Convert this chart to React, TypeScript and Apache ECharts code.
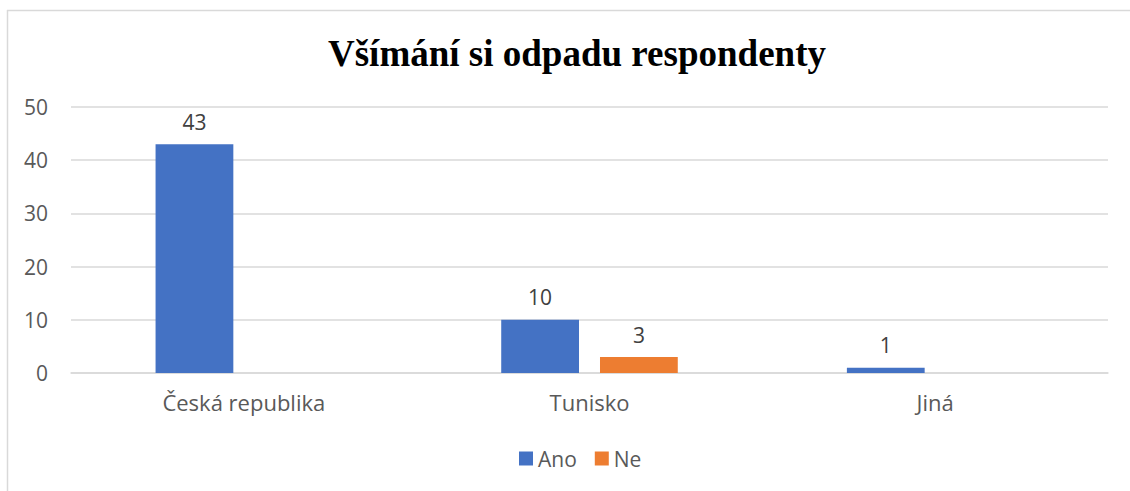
import React, { useEffect, useRef } from "react";
import * as echarts from "echarts";

const categories = ["Česká republika", "Tunisko", "Jiná"];
const anoValues = [43, 10, 1];
const neValues = [0, 3, 0];
const seriesNames = ["Ano", "Ne"];

export default function App() {
  const ref = useRef<HTMLDivElement>(null);
  useEffect(() => {
    if (!ref.current) return;
    const chart = echarts.init(ref.current, undefined, { renderer: "svg" });
    const font = "'Open Sans', 'Noto Sans', sans-serif";
    const labelCfg = {
      show: true,
      position: "top",
      distance: 12,
      fontSize: 21,
      color: "#404040",
      fontFamily: font,
      formatter: (p: any) => (p.value === 0 ? "" : String(p.value)),
    };
    chart.setOption({
      animation: false,
      backgroundColor: "#ffffff",
      title: {
        text: "Všímání si odpadu respondenty",
        left: 323,
        top: 30,
        textStyle: {
          fontFamily: "'Liberation Serif', 'Times New Roman', serif",
          fontWeight: "bold",
          fontSize: 37,
          color: "#000000",
        },
      },
      graphic: [
        {
          type: "line",
          shape: { x1: 7, y1: 10.5, x2: 1130, y2: 10.5 },
          style: { stroke: "#d9d9d9", lineWidth: 1.5 },
        },
        {
          type: "line",
          shape: { x1: 7.5, y1: 10, x2: 7.5, y2: 491 },
          style: { stroke: "#d9d9d9", lineWidth: 1.5 },
        },
      ],
      legend: {
        data: seriesNames,
        left: 514,
        top: 443,
        itemWidth: 14,
        itemHeight: 14,
        itemGap: 18,
        icon: "rect",
        textStyle: { fontSize: 21, color: "#595959", fontFamily: font },
      },
      grid: { left: 71, right: 22, top: 107, bottom: 118, containLabel: false },
      xAxis: {
        type: "category",
        data: categories,
        axisLine: { show: true, lineStyle: { color: "#d9d9d9", width: 1.5 } },
        axisTick: { show: false },
        axisLabel: { fontSize: 22, color: "#595959", fontFamily: font, margin: 18 },
      },
      yAxis: {
        type: "value",
        min: 0,
        max: 50,
        interval: 10,
        axisLine: { show: false },
        axisTick: { show: false },
        splitLine: { lineStyle: { color: "#d9d9d9", width: 1.5 } },
        axisLabel: { fontSize: 21, color: "#595959", fontFamily: font, margin: 23 },
      },
      series: [
        {
          name: seriesNames[0],
          type: "bar",
          data: anoValues,
          barWidth: "22.5%",
          barGap: "27%",
          itemStyle: { color: "#4472c4" },
          label: labelCfg,
        },
        {
          name: seriesNames[1],
          type: "bar",
          data: neValues,
          barWidth: "22.5%",
          itemStyle: { color: "#ed7d31" },
          label: labelCfg,
        },
      ],
    });
    return () => chart.dispose();
  }, []);
  return (
    <div
      ref={ref}
      style={{ position: "absolute", left: 0, top: 0, width: 1130, height: 491 }}
    />
  );
}
